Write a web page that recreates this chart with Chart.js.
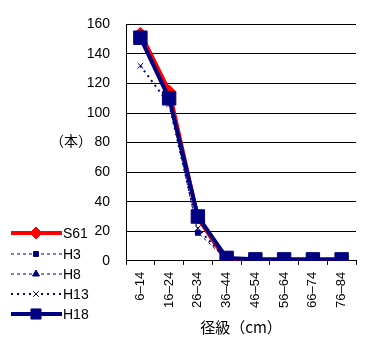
<!DOCTYPE html>
<html><head><meta charset="utf-8">
<script src="https://cdn.jsdelivr.net/npm/chart.js@4"></script>
<style>html,body{margin:0;padding:0;background:#fff}#wrap{width:373px;height:346px}</style>
</head><body><div id="wrap"><canvas id="c" width="373" height="346"></canvas></div>
<script>
const categories = ["6–14","16–24","26–34","36–44","46–54","56–64","66–74","76–84"];
const s61 = [154,115,29,0,0,0,0,0];
const h3  = [149,108,19,1,0,0,0,0];
const h8  = [150,110,28,1,0,0,0,0];
const h13 = [132,106,22,1,0,0,0,0];
const h18 = [151,110,30,2,1,1,1,1];
const yTicks = [0,20,40,60,80,100,120,140,160];
const yUnit = "（本）";
const xTitle = "径級（cm）";

const RED = "#ff0000", NAVY = "#000080";
const FONT = "'Liberation Sans', Arial, sans-serif";
const JFONT = "'Noto Sans CJK JP', sans-serif";

const datasets = [
  {label:"S61", data:s61, borderColor:RED, backgroundColor:RED, borderWidth:4,
   pointStyle:"rectRot", pointRadius:6, pointBorderWidth:1, order:4},
  {label:"H3", data:h3, borderColor:NAVY, backgroundColor:NAVY, borderWidth:1, borderDash:[3,3],
   pointStyle:"rect", pointRadius:3.5, pointBorderWidth:1, order:3},
  {label:"H8", data:h8, borderColor:NAVY, backgroundColor:NAVY, borderWidth:1, borderDash:[3,3],
   pointStyle:"triangle", pointRadius:4, pointBorderWidth:1, order:2},
  {label:"H13", data:h13, borderColor:NAVY, backgroundColor:NAVY, borderWidth:2, borderDash:[2,4],
   pointStyle:"crossRot", pointRadius:4, pointBorderWidth:1, order:1},
  {label:"H18", data:h18, borderColor:NAVY, backgroundColor:NAVY, borderWidth:4,
   pointStyle:"rect", pointRadius:9.5, pointBorderWidth:1, order:0}
];

const customLegend = {
  id:"customLegend",
  afterDraw(chart){
    const ctx = chart.ctx;
    ctx.save();
    ctx.fillStyle = "#000";
    ctx.font = "14px " + JFONT;
    ctx.textAlign = "left"; ctx.textBaseline = "middle";
    ctx.fillText(yUnit, 50, 141);
    const ys = [233,254,274,294,314];
    chart.data.datasets.forEach((ds,i)=>{
      const y = ys[i];
      ctx.save();
      ctx.strokeStyle = ds.borderColor;
      ctx.lineWidth = ds.borderWidth;
      ctx.setLineDash(ds.borderDash || []);
      ctx.beginPath(); ctx.moveTo(11,y); ctx.lineTo(62,y); ctx.stroke();
      ctx.restore();
      ctx.save();
      ctx.fillStyle = ds.backgroundColor; ctx.strokeStyle = ds.borderColor; ctx.lineWidth = 1;
      Chart.helpers.drawPoint(ctx, {pointStyle:ds.pointStyle, radius:ds.pointRadius*(i===4?0.75:1), borderWidth:1, rotation:0}, 36, y);
      ctx.restore();
      ctx.fillStyle = "#000";
      ctx.font = "14px " + FONT;
      ctx.textAlign = "left"; ctx.textBaseline = "middle";
      ctx.fillText(ds.label, 63, y+1);
    });
    ctx.restore();
  }
};

new Chart(document.getElementById("c"), {
  type:"line",
  data:{labels:categories, datasets},
  options:{
    responsive:false, animation:false, devicePixelRatio:1,
    layout:{padding:{left:0, right:17, top:7, bottom:10}},
    plugins:{legend:{display:false}, tooltip:{enabled:false}},
    elements:{line:{tension:0}},
    scales:{
      x:{
        offset:true,
        grid:{display:true, drawOnChartArea:false, drawTicks:true, tickLength:4, color:"#000", offset:true},
        border:{display:true, color:"#000", width:1},
        ticks:{color:"#000", font:{family:FONT, size:13}, minRotation:90, maxRotation:90, padding:7, autoSkip:false},
        title:{display:true, text:xTitle, color:"#000", font:{family:JFONT, size:15}, padding:{top:3,bottom:0}}
      },
      y:{
        min:0, max:160,
        afterFit(s){ s.width = 126; },
        afterBuildTicks(s){ s.ticks = yTicks.map(v=>({value:v})); },
        grid:{color:"#000", lineWidth:1, drawTicks:false},
        border:{display:true, color:"#000", width:1},
        ticks:{color:"#000", font:{family:FONT, size:14}, padding:16}
      }
    }
  },
  plugins:[customLegend]
});
</script>
</body></html>
